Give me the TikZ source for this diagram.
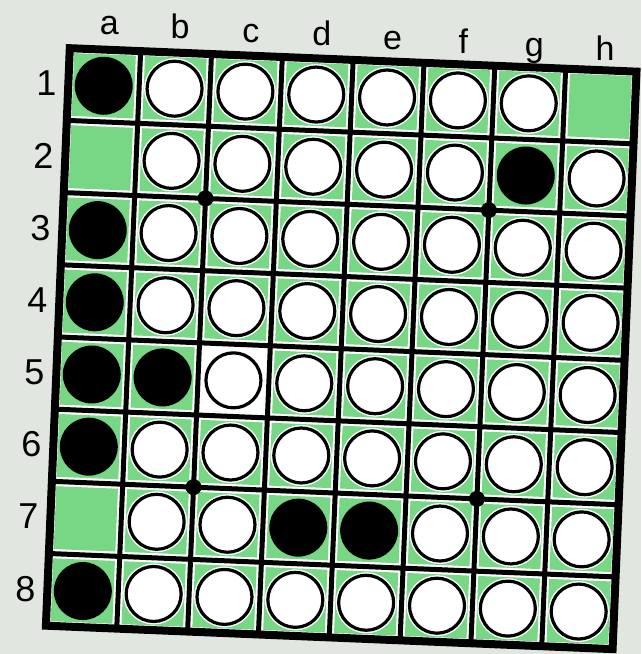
\documentclass[tikz,border=0pt]{standalone}
\usepackage{fontspec}
\setmainfont{Liberation Sans}
\usepackage{xcolor}
\usepackage{tikz}
\definecolor{boardgreen}{RGB}{119,215,133}
\definecolor{paper}{RGB}{226,230,225}

\begin{document}
\begin{tikzpicture}[
    x=1pt, y=1pt,
    font=\fontsize{34}{34}\selectfont,
    gridline/.style={line width=5pt, line cap=round},
    stone-w/.style={circle, draw=black, fill=white, line width=3.2pt, minimum size=55pt, inner sep=0pt, preaction={draw=white, line width=6pt}},
    stone-b/.style={circle, fill=black, minimum size=58pt, inner sep=0pt},
    stone-e/.style={inner sep=0pt},
    starpoint/.style={circle, fill=black, minimum size=16pt, inner sep=0pt},
    rowlabel/.style={inner sep=0pt, font=\fontsize{36}{36}\selectfont},
]
    % Page
    \useasboundingbox (0,0) rectangle (641,-654);
    \fill[paper] (0,0) rectangle (641,-654);

    % Board, scanned a little askew
    \begin{scope}[shift={(69.8,-48.2)}, rotate=-2.37, x=70.9pt, y=-72.25pt]
        % Squares
        \fill[white] (0,0) rectangle (8,8);
        \foreach \i in {0,...,7}
            \foreach \j in {0,...,7}
                \fill[boardgreen] (\i+0.065,\j+0.065) rectangle (\i+0.935,\j+0.935);
        % c5 is not shaded
        \fill[white] (2.06,4.06) rectangle (2.94,4.94);

        % Grid and frame
        \foreach \k in {1,...,7} {
            \draw[gridline] (\k,0) -- (\k,8);
            \draw[gridline] (0,\k) -- (8,\k);
        }
        \draw[line width=8pt] (0,0) rectangle (8,8);

        % Star points
        \node[starpoint] (star-c3) at (2,2) {};
        \node[starpoint] (star-g3) at (6,2) {};
        \node[starpoint] (star-c7) at (2,6) {};
        \node[starpoint] (star-g7) at (6,6) {};

        % Stones, row by row (a to h)
        \foreach \row/\stones in {
            1/{b,w,w,w,w,w,w,e},
            2/{e,w,w,w,w,w,b,w},
            3/{b,w,w,w,w,w,w,w},
            4/{b,w,w,w,w,w,w,w},
            5/{b,b,w,w,w,w,w,w},
            6/{b,w,w,w,w,w,w,w},
            7/{e,w,w,b,b,w,w,w},
            8/{b,w,w,w,w,w,w,w}}
            \foreach \s [count=\c from 0] in \stones
                \node[stone-\s] (sq\row-\c) at (\c+0.5,\row-0.5) {};

        % Column and row labels
        \foreach \l [count=\i from 0] in {a,b,c,d,e,f,g,h}
            \node[anchor=base, inner sep=0pt] (col-\l) at ({\i+0.55},{-(15-0.714*\i)/72.25}) {\l};
        \foreach \n in {1,...,8}
            \node[rowlabel] (row-\n) at (-0.31,\n-0.5) {\n};
    \end{scope}
\end{tikzpicture}
\end{document}
